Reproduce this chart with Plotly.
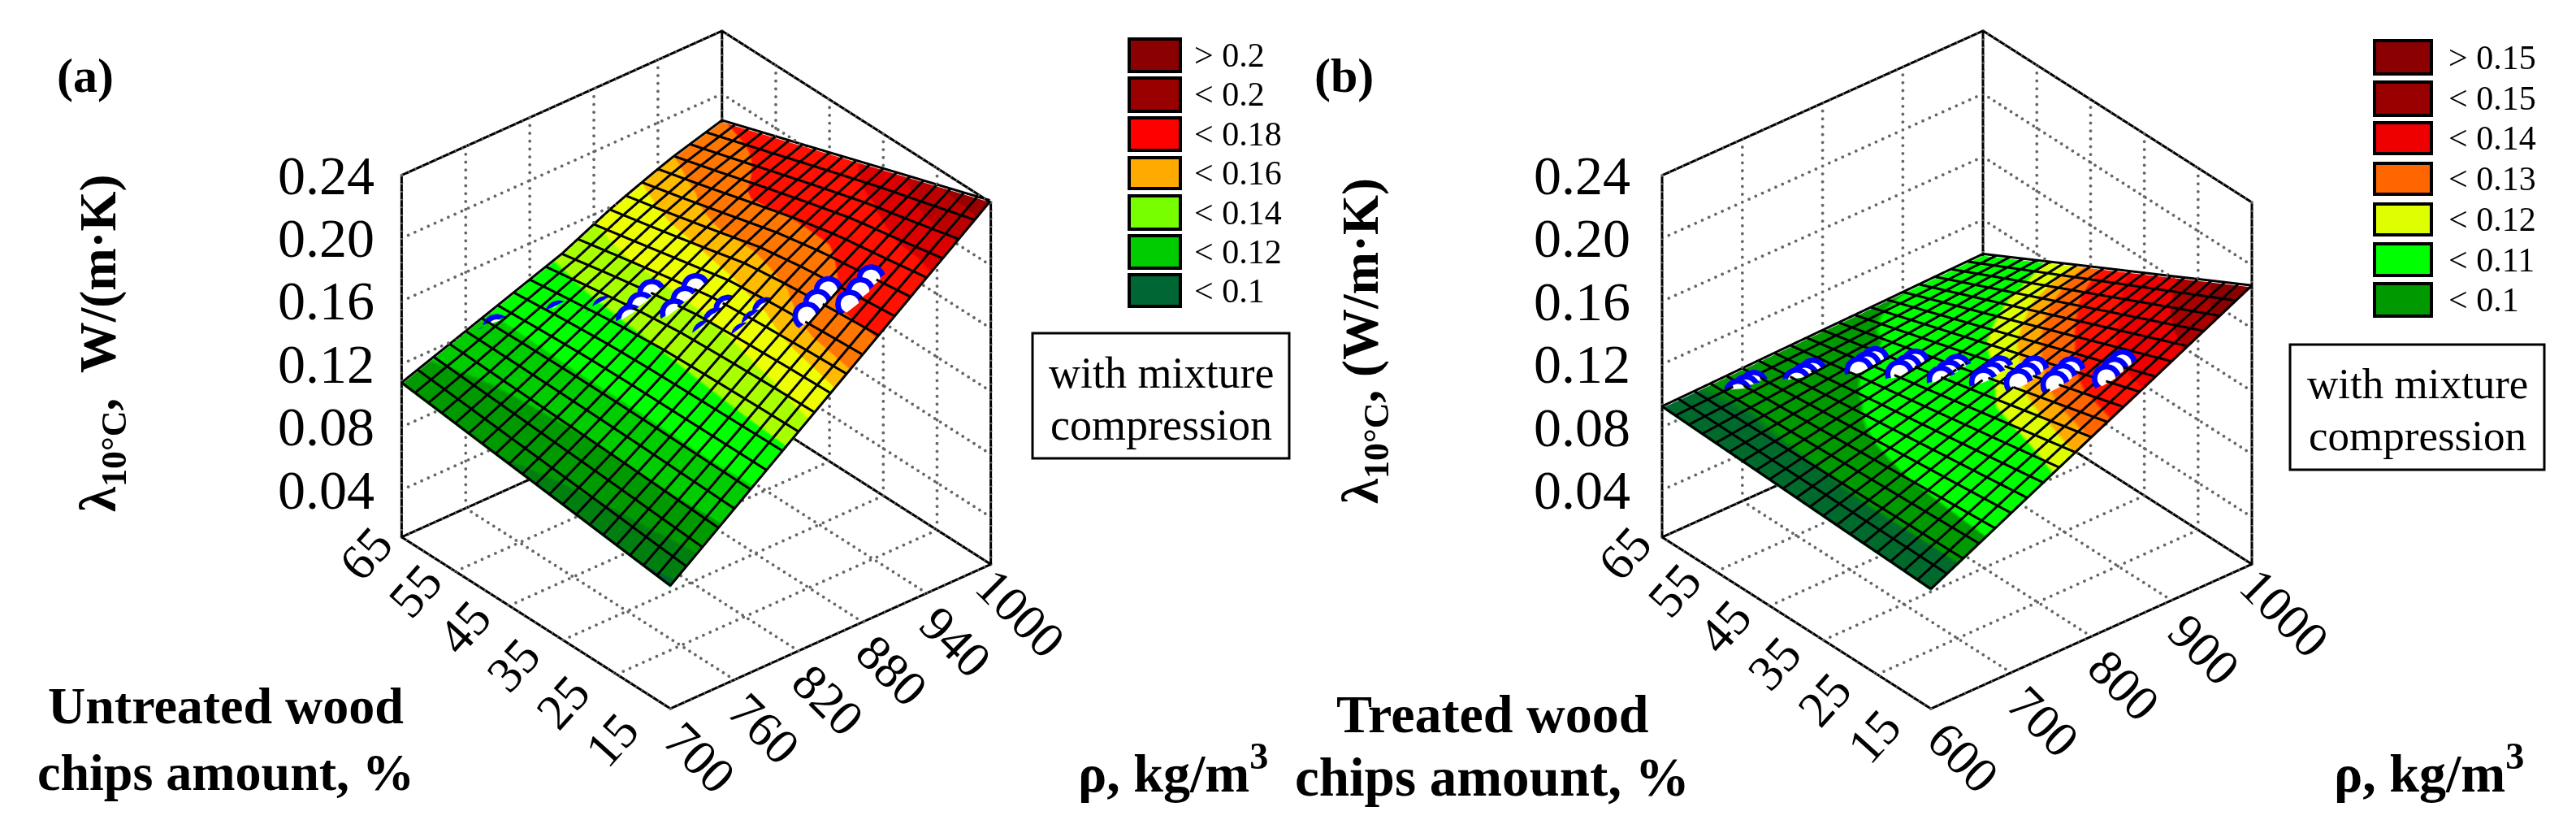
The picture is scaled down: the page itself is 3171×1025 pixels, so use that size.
import plotly.graph_objects as go

W, H = 3171, 1025
SERIF = "Liberation Serif"

# ---------- panel (a) ----------
rho_a = [700, 750, 800, 850, 900, 950, 1000]
amount_a = [15, 23.33, 31.67, 40, 48.33, 56.67, 65]
height_a = [
    [.0870, .1125, .1380, .1635, .1890, .2145, .2400],
    [.0903, .1137, .1375, .1625, .1867, .2090, .2303],
    [.0937, .1150, .1370, .1610, .1840, .2040, .2207],
    [.0970, .1160, .1365, .1590, .1800, .1965, .2110],
    [.1003, .1170, .1355, .1545, .1725, .1885, .2013],
    [.1037, .1180, .1335, .1490, .1655, .1800, .1917],
    [.1070, .1190, .1310, .1430, .1590, .1720, .1820],
]
lambda_a = [
    [.0870, .1120, .1350, .1610, .1970, .2110, .2380],
    [.0903, .1130, .1350, .1555, .1940, .2075, .2320],
    [.0937, .1130, .1345, .1520, .1780, .2005, .2195],
    [.0970, .1130, .1340, .1490, .1715, .1980, .2090],
    [.1003, .1135, .1335, .1465, .1665, .1965, .2060],
    [.1037, .1140, .1320, .1445, .1620, .1810, .1990],
    [.1070, .1155, .1300, .1415, .1560, .1725, .1920],
]
pts_rho_a = [759, 769, 779, 792, 802, 812, 811, 821, 831, 831, 841, 851, 847, 857, 867,
             847, 857, 867, 858, 868, 878, 883, 893, 903, 903, 913, 923]
pts_amount_a = [63, 63, 63, 58, 58, 58, 53, 53, 53, 48.5, 48.5, 48.5, 43.5, 43.5, 43.5,
                37.5, 37.5, 37.5, 32.5, 32.5, 32.5, 26, 26, 26, 22, 22, 22]
pts_lambda_a = [.113, .118, .123, .1225, .1275, .1325, .1305, .1355, .1405, .145, .150, .155,
                .1547, .1597, .1647, .154, .159, .164, .160, .165, .170, .1799, .1849, .1899,
                .190, .195, .200]
rho_ticks_a = [700, 760, 820, 880, 940, 1000]
band_edges_a = [.09, .10, .112, .125, .14, .151, .165, .175, .193, .21, .222, .232]
band_colors_a = ["#006633", "#007f10", "#009900", "#00cc00", "#00ff00", "#a8ff00", "#eeff00",
                 "#ffbb00", "#ff7700", "#ff1000", "#dd0000", "#bb0000", "#990000"]
legend_labels_a = ["> 0.2", "< 0.2", "< 0.18", "< 0.16", "< 0.14", "< 0.12", "< 0.1"]
legend_colors_a = ["#8b0000", "#990000", "#ff0000", "#ffaa00", "#77ff00", "#00cc00", "#006633"]

# ---------- panel (b) ----------
rho_b = [600, 666.7, 733.3, 800, 866.7, 933.3, 1000]
amount_b = [15, 23.33, 31.67, 40, 48.33, 56.67, 65]
lambda_b = [
    [.0850, .1010, .1180, .1310, .1460, .1650, .1860],
    [.0860, .1000, .1140, .1270, .1410, .1550, .1700],
    [.0870, .0990, .1113, .1230, .1330, .1430, .1550],
    [.0880, .0970, .1073, .1147, .1260, .1340, .1425],
    [.0890, .0955, .1015, .1100, .1180, .1240, .1270],
    [.0905, .0940, .0970, .1000, .1070, .1140, .1190],
    [.0920, .0940, .0960, .0980, .1005, .1030, .1060],
]
height_b = [
    [.0850, .1018, .1187, .1355, .1523, .1692, .1860],
    [.0862, .1003, .1145, .1287, .1428, .1570, .1712],
    [.0873, .0988, .1104, .1218, .1333, .1449, .1563],
    [.0885, .0973, .1062, .1150, .1238, .1327, .1415],
    [.0897, .0958, .1021, .1082, .1143, .1205, .1267],
    [.0908, .0943, .0979, .1013, .1048, .1084, .1118],
    [.0920, .0928, .0937, .0945, .0953, .0962, .0970],
]
pts_rho_b = [674, 684, 694, 724, 734, 744, 768, 778, 788, 785, 795, 805, 800, 810, 820,
             816, 826, 836, 826, 836, 846, 838, 848, 858, 862, 872, 882]
pts_amount_b = [62, 62, 62, 58.5, 58.5, 58.5, 53.5, 53.5, 53.5, 48.5, 48.5, 48.5, 43, 43, 43,
                37.5, 37.5, 37.5, 32.5, 32.5, 32.5, 27.5, 27.5, 27.5, 21.5, 21.5, 21.5]
pts_lambda_b = [.0914, .0919, .0924, .0947, .0955, .0963, .1025, .1035, .1045, .1075, .1087, .1099,
                .1123, .1137, .1151, .1192, .1208, .1224, .1274, .1292, .1310, .1344, .1365, .1386,
                .1458, .1482, .1506]
rho_ticks_b = [600, 700, 800, 900, 1000]
band_edges_b = [.0935, .102, .122, .127, .131, .137, .146, .16, .172]
band_colors_b = ["#006a2c", "#009900", "#00ff00", "#ddff00", "#ffaa00", "#ff6600", "#ff1000",
                 "#ee0000", "#aa0000", "#8b0000"]
legend_labels_b = ["> 0.15", "< 0.15", "< 0.14", "< 0.13", "< 0.12", "< 0.11", "< 0.1"]
legend_colors_b = ["#8b0000", "#990000", "#ee0000", "#ff6600", "#ddff00", "#00ff00", "#009900"]

# ---------- shared axes ----------
amount_ticks = [15, 25, 35, 45, 55, 65]
lambda_ticks = [.04, .08, .12, .16, .20, .24]
lambda_tick_text = ["0.04", "0.08", "0.12", "0.16", "0.20", "0.24"]
Z_RANGE = [.01, .24]
MESH_CELLS = 20
ASPECT_XY = 1.16
ASPECT_Z = 1.19
EYE = dict(x=-1.135, y=-1.351, z=1.12)


def colorscale(edges, colors, lo, hi):
    stops = [lo] + edges + [hi]
    out = []
    for i, c in enumerate(colors):
        out.append([(stops[i] - lo) / (hi - lo), c])
        out.append([(stops[i + 1] - lo) / (hi - lo), c])
    return out


def frame_lines(x0, x1, y0, y1, z0, z1):
    seg = [((x0, y0, z0), (x1, y0, z0)), ((x0, y0, z0), (x0, y1, z0)),
           ((x1, y0, z0), (x1, y1, z0)), ((x0, y1, z0), (x1, y1, z0)),
           ((x0, y1, z0), (x0, y1, z1)), ((x1, y0, z0), (x1, y0, z1)),
           ((x1, y1, z0), (x1, y1, z1)), ((x0, y1, z1), (x1, y1, z1)),
           ((x1, y0, z1), (x1, y1, z1))]
    xs, ys, zs = [], [], []
    for a, b in seg:
        xs += [a[0], b[0], None]; ys += [a[1], b[1], None]; zs += [a[2], b[2], None]
    return xs, ys, zs


def dots(a, b, n, out):
    for i in range(n + 1):
        f = i / n
        out[0].append(a[0] + (b[0] - a[0]) * f)
        out[1].append(a[1] + (b[1] - a[1]) * f)
        out[2].append(a[2] + (b[2] - a[2]) * f)


def grid_dots(xt, yt, zt, x0, x1, y0, y1, z0, z1):
    out = ([], [], [])
    for v in xt:
        dots((v, y0, z0), (v, y1, z0), 48, out)
        dots((v, y1, z0), (v, y1, z1), 46, out)
    for v in yt:
        dots((x0, v, z0), (x1, v, z0), 48, out)
        dots((x1, v, z0), (x1, v, z1), 46, out)
    for v in zt:
        dots((x0, y1, v), (x1, y1, v), 48, out)
        dots((x1, y0, v), (x1, y1, v), 48, out)
    return out


def height_at(mesh, xs, ys, x, y):
    i = min(int((x - xs[0]) / (xs[-1] - xs[0]) * (len(xs) - 1)), len(xs) - 2)
    j = min(int((y - ys[0]) / (ys[-1] - ys[0]) * (len(ys) - 1)), len(ys) - 2)
    u = (x - xs[i]) / (xs[i + 1] - xs[i])
    v = (y - ys[j]) / (ys[j + 1] - ys[j])
    return (mesh[j][i] * (1 - u) * (1 - v) + mesh[j][i + 1] * u * (1 - v)
            + mesh[j + 1][i] * (1 - u) * v + mesh[j + 1][i + 1] * u * v)


def mesh_lines(mesh, xs, ys, lift):
    gx, gy, gz = [], [], []
    x0, x1, y0, y1 = xs[0], xs[-1], ys[0], ys[-1]
    for k in range(MESH_CELLS + 1):
        a = x0 + (x1 - x0) * k / MESH_CELLS
        for m in range(MESH_CELLS + 1):
            b = y0 + (y1 - y0) * m / MESH_CELLS
            gx.append(a); gy.append(b); gz.append(height_at(mesh, xs, ys, a, b) + lift)
        gx.append(None); gy.append(None); gz.append(None)
        b = y0 + (y1 - y0) * k / MESH_CELLS
        for m in range(MESH_CELLS + 1):
            a = x0 + (x1 - x0) * m / MESH_CELLS
            gx.append(a); gy.append(b); gz.append(height_at(mesh, xs, ys, a, b) + lift)
        gx.append(None); gy.append(None); gz.append(None)
    return gx, gy, gz


fig = go.Figure()


def panel(scene, rho, amount, height, lam, edges, colors, pr, pa, pl, rho_ticks):
    x0, x1, y0, y1 = rho[0], rho[-1], amount[0], amount[-1]
    z0, z1 = Z_RANGE
    gx, gy, gz = grid_dots(rho_ticks, amount_ticks, lambda_ticks, x0, x1, y0, y1, z0, z1)
    fig.add_trace(go.Scatter3d(x=gx, y=gy, z=gz, mode="markers", scene=scene, hoverinfo="skip",
                               marker=dict(color="#666666", size=2.2, line=dict(width=0))))
    bx, by, bz = frame_lines(x0, x1, y0, y1, z0, z1)
    fig.add_trace(go.Scatter3d(x=bx, y=by, z=bz, mode="lines", scene=scene, hoverinfo="skip",
                               line=dict(color="black", width=6)))
    fig.add_trace(go.Surface(x=rho, y=amount, z=height, surfacecolor=lam, scene=scene, showscale=False,
                             hoverinfo="skip", cmin=.08, cmax=.245,
                             colorscale=colorscale(edges, colors, .08, .245),
                             lighting=dict(ambient=1, diffuse=0, specular=0, fresnel=0)))
    mx, my, mz = mesh_lines(height, rho, amount, .0012)
    fig.add_trace(go.Scatter3d(x=mx, y=my, z=mz, mode="lines", scene=scene, hoverinfo="skip",
                               line=dict(color="black", width=6)))
    fig.add_trace(go.Scatter3d(x=pr, y=pa, z=pl, mode="markers", scene=scene, hoverinfo="skip",
                               marker=dict(size=21, color="#0000ff", line=dict(width=0))))
    # white centres sit a hair closer to the camera than the blue rims
    e = (-.0022 * (x1 - x0), -.0026 * (y1 - y0), .0022 * (z1 - z0))
    fig.add_trace(go.Scatter3d(x=[v + e[0] for v in pr], y=[v + e[1] for v in pa], z=[v + e[2] for v in pl],
                               mode="markers", scene=scene, hoverinfo="skip",
                               marker=dict(size=13, color="white", line=dict(width=0))))


panel("scene", rho_a, amount_a, height_a, lambda_a, band_edges_a, band_colors_a,
      pts_rho_a, pts_amount_a, pts_lambda_a, rho_ticks_a)
panel("scene2", rho_b, amount_b, height_b, lambda_b, band_edges_b, band_colors_b,
      pts_rho_b, pts_amount_b, pts_lambda_b, rho_ticks_b)


def px(x): return x / W
def py(y): return 1 - y / H


def scene_annots(rho_ticks, z_shift, rshift, a_shift):
    out = []
    x0 = rho_ticks[0]
    tf = dict(family=SERIF, size=68, color="black")
    for z, t in zip(lambda_ticks, lambda_tick_text):
        out.append(dict(x=x0, y=65, z=z, text=t, showarrow=False, xanchor="right", yanchor="middle",
                        xshift=z_shift, font=tf))
    lf = dict(family=SERIF, size=62, color="black")
    for v in rho_ticks:
        out.append(dict(x=v, y=15, z=Z_RANGE[0], text=str(v), showarrow=False, textangle=45,
                        xshift=rshift[0], yshift=rshift[1], font=lf))
    for i, v in enumerate(amount_ticks):
        f = i / 5
        out.append(dict(x=x0, y=v, z=Z_RANGE[0], text=str(v), showarrow=False, textangle=-48,
                        xshift=a_shift[0][0] + (a_shift[1][0] - a_shift[0][0]) * f,
                        yshift=a_shift[0][1] + (a_shift[1][1] - a_shift[0][1]) * f, font=lf))
    return out


axis = dict(visible=False, showgrid=False, showbackground=False, showspikes=False, zeroline=False)


def scene_layout(cx, rho_ticks, z_shift, rshift, a_shift):
    return dict(domain=dict(x=[px(cx - 430), px(cx + 430)], y=[py(894), 1]),
                xaxis=dict(range=[rho_ticks[0] - 1, rho_ticks[-1] + 1], **axis),
                yaxis=dict(range=[14.8, 65.2], **axis),
                zaxis=dict(range=[Z_RANGE[0] - .001, Z_RANGE[1] + .001], **axis),
                aspectmode="manual", aspectratio=dict(x=ASPECT_XY, y=ASPECT_XY, z=ASPECT_Z),
                camera=dict(eye=EYE, center=dict(x=0, y=0, z=0), up=dict(x=0, y=0, z=1),
                            projection=dict(type="orthographic")),
                annotations=scene_annots(rho_ticks, z_shift, rshift, a_shift))


annots, shapes = [], []


def text(x, y, t, size, bold=False, angle=0, anchor="center"):
    s = f"<b>{t}</b>" if bold else t
    annots.append(dict(x=px(x), y=py(y), xref="paper", yref="paper", text=s, showarrow=False,
                       xanchor=anchor, yanchor="middle", textangle=angle,
                       font=dict(family=SERIF, size=size, color="black")))


def rect(x0, y0, x1, y1, fill, width):
    shapes.append(dict(type="rect", xref="paper", yref="paper", x0=px(x0), x1=px(x1), y0=py(y0), y1=py(y1),
                       fillcolor=fill, line=dict(color="black", width=width)))


def legend(x0, x1, tx, rows, labels, colors):
    for (y0, y1), lb, c in zip(rows, labels, colors):
        rect(x0, y0, x1, y1, c, 4)
        text(tx, (y0 + y1) / 2, lb, 42, anchor="left")


text(97, 85, "(a)", 60, True)
text(1646, 85, "(b)", 60, True)
text(117, 414, "λ<sub>10°C</sub>,  W/(m·K)", 63, True, -90)
text(1671, 412, "λ<sub>10°C</sub>, (W/m·K)", 63, True, -90)
text(270, 860, "Untreated wood", 64, True)
text(270, 942, "chips amount, %", 64, True)
text(1829, 870, "Treated wood", 66, True)
text(1829, 948, "chips amount, %", 67, True)
text(1436, 938, "ρ, kg/m<sup>3</sup>", 66, True)
text(2982, 938, "ρ, kg/m<sup>3</sup>", 66, True)

rect(1263, 402, 1579, 556, "white", 3)
text(1421, 451, "with mixture", 54)
text(1421, 515, "compression", 54)
rect(2811, 416, 3124, 570, "white", 3)
text(2968, 464, "with mixture", 53)
text(2968, 528, "compression", 53)

legend(1382, 1445, 1460,
       [(40, 80), (88, 129), (137, 177), (186, 224), (233, 274), (282, 322), (330, 369)],
       legend_labels_a, legend_colors_a)
legend(2915, 2985, 3004,
       [(42, 83), (93, 134), (143, 181), (193, 231), (243, 281), (292, 331), (341, 381)],
       legend_labels_b, legend_colors_b)

fig.update_layout(
    width=W, height=H, margin=dict(l=0, r=0, t=0, b=0), paper_bgcolor="white", showlegend=False,
    scene=scene_layout(849, rho_ticks_a, -31, (36, -60), ((-72, -38), (-44, -20))),
    scene2=scene_layout(2401, rho_ticks_b, -37, (40, -60), ((-70, -34), (-46, -20))),
    annotations=annots, shapes=shapes)

fig.write_html("out.html")
